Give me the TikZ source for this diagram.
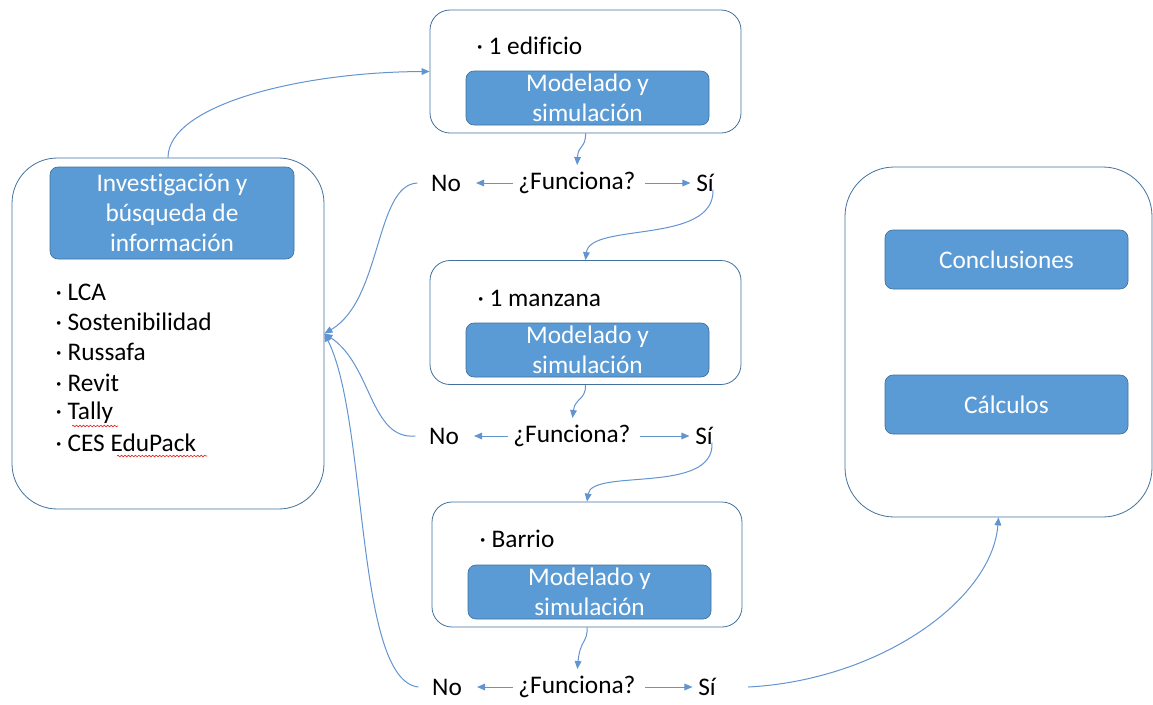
\documentclass[tikz,border=0pt]{standalone}
\usepackage{fontspec}
\setmainfont{Carlito}[Ligatures=NoCommon]
\usetikzlibrary{arrows.meta,decorations.pathmorphing}

\definecolor{boxblue}{RGB}{91,155,213}
\definecolor{edgeblue}{RGB}{65,113,156}
\definecolor{lineblue}{RGB}{98,148,208}
\definecolor{spellred}{RGB}{225,45,45}

\tikzset{every picture/.style={line width=0.75pt}}
\tikzset{
  outerbox/.style={draw=edgeblue, line width=0.6pt, fill=white, inner sep=0pt},
  bluebox/.style={draw=edgeblue, line width=0.5pt, fill=boxblue, rounded corners=6pt, inner sep=0pt,
    text=white, align=center, font=\fontsize{19}{22.7}\selectfont},
  plaintext/.style={inner sep=2pt, font=\fontsize{19}{22.7}\selectfont},
  conn/.style={draw=lineblue, line width=0.75pt, -{Triangle[length=6pt,width=5pt]}},
  spell/.style={draw=spellred, line width=0.5pt, decorate, decoration={snake, amplitude=0.6pt, segment length=2.6pt}},
}

\begin{document}
\begin{tikzpicture}[x=0.75pt,y=0.75pt,yscale=-1,xscale=1]
\useasboundingbox (0,0) rectangle (1153,704);

%Left box: investigacion
\node[outerbox, rounded corners=34pt, minimum width=234pt, minimum height=263.25pt] (inv) at (168,333.5) {};
\node[bluebox, minimum width=183pt, minimum height=69pt] (invtitle) at (172,213) {Investigación y\\búsqueda de\\información};
\foreach \t [count=\i from 0] in {LCA, Sostenibilidad, Russafa, Revit, Tally, CES EduPack}
  \node[plaintext, anchor=west, inner sep=0pt] (item\i) at (55,292+30.2*\i) {· \t};
%spell check marks
\draw[spell] (72,426) -- (118,426);
\draw[spell] (117,456) -- (207,456);

%Box 1: edificio
\node[outerbox, rounded corners=15pt, minimum width=233.25pt, minimum height=92.25pt] (ed) at (585.5,71.5) {};
\node[plaintext, anchor=west, inner sep=0pt] (edtext) at (476,46) {· 1 edificio};
\node[bluebox, minimum width=182.25pt, minimum height=40.5pt] (edsim) at (587.5,98) {Modelado y\\simulación};

%Box 2: manzana
\node[outerbox, rounded corners=15pt, minimum width=233.25pt, minimum height=93pt] (man) at (585.5,322.5) {};
\node[plaintext, anchor=west, inner sep=0pt] (mantext) at (477,298) {· 1 manzana};
\node[bluebox, minimum width=182.25pt, minimum height=40.5pt] (mansim) at (587.5,350) {Modelado y\\simulación};

%Box 3: barrio
\node[outerbox, rounded corners=15pt, minimum width=232.5pt, minimum height=93.75pt] (bar) at (587,564.5) {};
\node[plaintext, anchor=west, inner sep=0pt] (bartext) at (479,539) {· Barrio};
\node[bluebox, minimum width=182.25pt, minimum height=40.5pt] (barsim) at (589.5,592) {Modelado y\\simulación};

%Right box: resultados
\node[outerbox, rounded corners=37pt, minimum width=230.25pt, minimum height=262.5pt] (res) at (998.5,342) {};
\node[bluebox, minimum width=182.25pt, minimum height=44.25pt] (con) at (1006.5,259.5) {Conclusiones};
\node[bluebox, minimum width=182.25pt, minimum height=44.25pt] (cal) at (1006.5,404.5) {Cálculos};

%Decisions
\node[plaintext] (no1) at (446,183) {No};
\node[plaintext] (fun1) at (577,183) {¿Funciona?};
\node[plaintext] (si1) at (705,183) {Sí};
\node[plaintext] (no2) at (444,436) {No};
\node[plaintext] (fun2) at (572,436) {¿Funciona?};
\node[plaintext] (si2) at (704,436) {Sí};
\node[plaintext] (no3) at (447,687) {No};
\node[plaintext] (fun3) at (577,687) {¿Funciona?};
\node[plaintext] (si3) at (707,687) {Sí};

%Short arrows
\draw[conn, shorten <=2pt, shorten >=9pt] (fun1) -- (no1);
\draw[conn, shorten <=5pt, shorten >=2pt] (fun1) -- (si1);
\draw[conn, shorten <=2pt, shorten >=9pt] (fun2) -- (no2);
\draw[conn, shorten <=5pt, shorten >=2pt] (fun2) -- (si2);
\draw[conn, shorten <=2pt, shorten >=9pt] (fun3) -- (no3);
\draw[conn, shorten <=5pt, shorten >=2pt] (fun3) -- (si3);

%Box to decision
\draw[conn, shorten >=3pt] (ed.south) .. controls (586,148) and (578,145) .. (fun1.north);
\draw[conn, shorten >=3pt] (man.south) .. controls (586,400) and (575,398) .. (fun2.north);
\draw[conn, shorten >=3pt] (bar.south) .. controls (588,642) and (580,640) .. (fun3.north);

%Curved connectors
\draw[conn] (inv.north) .. controls (168,105) and (300,72) .. (ed.west);
\draw[conn] ([xshift=6pt,yshift=-4pt]si1.south) .. controls (715,245) and (590,222) .. (man.north);
\draw[conn] ([xshift=6pt,yshift=-4pt]si2.south) .. controls (715,495) and (592,468) .. (bar.north);
\draw[conn] ([xshift=22pt]si3.east) .. controls (880,680) and (992,600) .. (res.south);
\draw[conn] ([xshift=-8pt]no1.west) .. controls (375,185) and (382,300) .. (inv.east);
\draw[conn] ([xshift=-8pt]no2.west) .. controls (370,440) and (372,365) .. (inv.east);
\draw[conn] ([xshift=-8pt]no3.west) .. controls (355,680) and (368,420) .. (inv.east);

\end{tikzpicture}
\end{document}
